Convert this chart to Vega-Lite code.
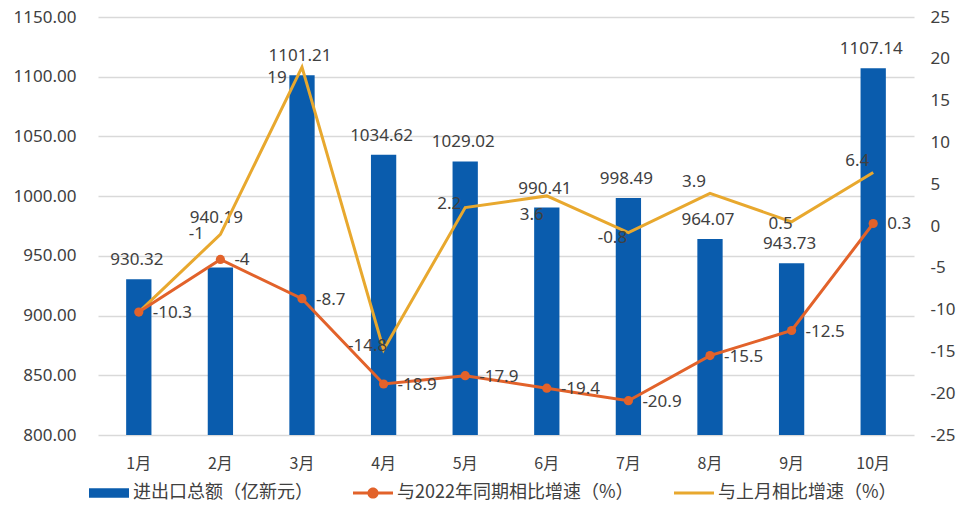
{
  "$schema": "https://vega.github.io/schema/vega-lite/v6.json",
  "width": 816,
  "height": 418,
  "autosize": {"type": "none"},
  "padding": {"left": 98, "top": 17, "right": 46, "bottom": 76},
  "background": "white",
  "config": {
    "view": {"stroke": null},
    "font": "Noto Sans",
    "text": {"font": "Noto Sans", "fontSize": 17, "fill": "#404040"}
  },
  "data": {
    "values": [
      {"month": "1月", "total": 930.32, "yoy": -10.3, "mom": -10.3},
      {"month": "2月", "total": 940.19, "yoy": -4, "mom": -1},
      {"month": "3月", "total": 1101.21, "yoy": -8.7, "mom": 19},
      {"month": "4月", "total": 1034.62, "yoy": -18.9, "mom": -14.8},
      {"month": "5月", "total": 1029.02, "yoy": -17.9, "mom": 2.2},
      {"month": "6月", "total": 990.41, "yoy": -19.4, "mom": 3.6},
      {"month": "7月", "total": 998.49, "yoy": -20.9, "mom": -0.8},
      {"month": "8月", "total": 964.07, "yoy": -15.5, "mom": 3.9},
      {"month": "9月", "total": 943.73, "yoy": -12.5, "mom": 0.5},
      {"month": "10月", "total": 1107.14, "yoy": 0.3, "mom": 6.4}
    ]
  },
  "encoding": {
    "x": {
      "field": "month",
      "type": "nominal",
      "sort": null,
      "scale": {"paddingInner": 0, "paddingOuter": 0},
      "axis": {
        "title": null,
        "labelAngle": 0,
        "domain": false,
        "ticks": false,
        "labelFont": "Noto Sans CJK SC",
        "labelFontSize": 16,
        "labelColor": "#404040",
        "labelPadding": 20
      }
    }
  },
  "layer": [
    {
      "mark": {"type": "bar", "width": {"band": 0.31}},
      "encoding": {
        "y": {
          "field": "total",
          "type": "quantitative",
          "scale": {"domain": [800, 1150], "nice": false, "zero": false},
          "axis": {
            "title": null,
            "values": [800, 850, 900, 950, 1000, 1050, 1100, 1150],
            "format": ".2f",
            "grid": true,
            "gridColor": "#d9d9d9",
            "gridWidth": 1.5,
            "domain": false,
            "ticks": false,
            "labelFont": "Noto Sans",
            "labelFontSize": 17,
            "labelColor": "#404040",
            "labelPadding": 22
          }
        },
        "y2": {"datum": 800},
        "color": {
          "datum": "进出口总额（亿新元）",
          "type": "nominal",
          "scale": {
            "domain": ["进出口总额（亿新元）", "与2022年同期相比增速（%）", "与上月相比增速（%）"],
            "range": ["#0A5CAD", "#E2622A", "#E8A82E"]
          },
          "legend": {
            "title": null,
            "orient": "none",
            "legendX": -9,
            "legendY": 456,
            "direction": "horizontal",
            "columns": 3,
            "padding": 0,
            "symbolSize": 1600,
            "symbolStrokeWidth": 0,
            "symbolOpacity": 1,
            "labelFont": "Noto Sans CJK SC",
            "labelFontSize": 18,
            "labelColor": "#404040",
            "labelOffset": 4,
            "labelLimit": 0,
            "columnPadding": 40
          }
        }
      }
    },
    {
      "transform": [{"filter": "datum.month === 'none'"}],
      "mark": {"type": "point", "filled": true, "opacity": 1},
      "encoding": {
        "y": {"field": "total", "type": "quantitative", "scale": {"domain": [800, 1150], "nice": false, "zero": false}, "axis": null},
        "color": {"datum": "与2022年同期相比增速（%）", "type": "nominal"},
        "shape": {
          "datum": "与2022年同期相比增速（%）",
          "type": "nominal",
          "scale": {
            "domain": ["进出口总额（亿新元）", "与2022年同期相比增速（%）", "与上月相比增速（%）"],
            "range": [
              "M-1,-0.24H1V0.24H-1Z",
              "M-1,-0.075H1V0.075H-1ZM0.28,0A0.28,0.28 0 1 1 -0.28,0A0.28,0.28 0 1 1 0.28,0Z",
              "M-1,-0.075H1V0.075H-1Z"
            ]
          },
          "legend": {
            "title": null,
            "orient": "none",
            "legendX": -9,
            "legendY": 456,
            "direction": "horizontal",
            "columns": 3,
            "padding": 0,
            "symbolSize": 1600,
            "symbolStrokeWidth": 0,
            "symbolOpacity": 1,
            "labelFont": "Noto Sans CJK SC",
            "labelFontSize": 18,
            "labelColor": "#404040",
            "labelOffset": 4,
            "labelLimit": 0,
            "columnPadding": 40
          }
        }
      }
    },
    {
      "transform": [{"filter": "datum.month !== '2月'"}],
      "mark": {"type": "text", "dy": -19, "dx": -2, "baseline": "middle"},
      "encoding": {
        "y": {"field": "total", "type": "quantitative", "scale": {"domain": [800, 1150], "nice": false, "zero": false}, "axis": null},
        "text": {"field": "total", "type": "quantitative", "format": ".2f"}
      }
    },
    {
      "transform": [{"filter": "datum.month === '2月'"}],
      "mark": {"type": "text", "dy": -50, "dx": -4, "baseline": "middle"},
      "encoding": {
        "y": {"field": "total", "type": "quantitative", "scale": {"domain": [800, 1150], "nice": false, "zero": false}, "axis": null},
        "text": {"field": "total", "type": "quantitative", "format": ".2f"}
      }
    },
    {
      "mark": {"type": "line", "strokeWidth": 3},
      "encoding": {
        "y": {
          "field": "mom",
          "type": "quantitative",
          "scale": {"domain": [-25, 25], "nice": false},
          "axis": {
            "title": null,
            "orient": "right",
            "values": [-25, -20, -15, -10, -5, 0, 5, 10, 15, 20, 25],
            "labelExpr": "'' + datum.value",
            "grid": false,
            "domain": false,
            "ticks": false,
            "labelFont": "Noto Sans",
            "labelFontSize": 17,
            "labelColor": "#404040",
            "labelPadding": 16
          }
        },
        "color": {"datum": "与上月相比增速（%）", "type": "nominal"}
      }
    },
    {
      "mark": {"type": "line", "strokeWidth": 3},
      "encoding": {
        "y": {"field": "yoy", "type": "quantitative", "scale": {"domain": [-25, 25], "nice": false}, "axis": null},
        "color": {"datum": "与2022年同期相比增速（%）", "type": "nominal"}
      }
    },
    {
      "mark": {"type": "point", "filled": true, "size": 85, "color": "#E2622A", "opacity": 1},
      "encoding": {"y": {"field": "yoy", "type": "quantitative", "scale": {"domain": [-25, 25], "nice": false}, "axis": null}}
    },
    {
      "mark": {"type": "text", "align": "left", "dx": 14, "dy": 1, "baseline": "middle"},
      "encoding": {
        "y": {"field": "yoy", "type": "quantitative", "scale": {"domain": [-25, 25], "nice": false}, "axis": null},
        "text": {"field": "yoy", "type": "nominal"}
      }
    },
    {
      "transform": [{"filter": "datum.month === '4月' || datum.month === '5月'"}],
      "mark": {"type": "text", "align": "center", "dx": -16, "dy": -4, "baseline": "middle"},
      "encoding": {
        "y": {"field": "mom", "type": "quantitative", "scale": {"domain": [-25, 25], "nice": false}, "axis": null},
        "text": {"field": "mom", "type": "nominal"}
      }
    },
    {
      "transform": [{"filter": "datum.month === '8月' || datum.month === '10月'"}],
      "mark": {"type": "text", "align": "center", "dx": -16, "dy": -11, "baseline": "middle"},
      "encoding": {
        "y": {"field": "mom", "type": "quantitative", "scale": {"domain": [-25, 25], "nice": false}, "axis": null},
        "text": {"field": "mom", "type": "nominal"}
      }
    },
    {
      "transform": [{"filter": "datum.month === '6月'"}],
      "mark": {"type": "text", "align": "center", "dx": -15, "dy": 19, "baseline": "middle"},
      "encoding": {
        "y": {"field": "mom", "type": "quantitative", "scale": {"domain": [-25, 25], "nice": false}, "axis": null},
        "text": {"field": "mom", "type": "nominal"}
      }
    },
    {
      "transform": [{"filter": "datum.month === '7月'"}],
      "mark": {"type": "text", "align": "center", "dx": -16, "dy": 5, "baseline": "middle"},
      "encoding": {
        "y": {"field": "mom", "type": "quantitative", "scale": {"domain": [-25, 25], "nice": false}, "axis": null},
        "text": {"field": "mom", "type": "nominal"}
      }
    },
    {
      "transform": [{"filter": "datum.month === '2月'"}],
      "mark": {"type": "text", "align": "center", "dx": -24, "dy": 0, "baseline": "middle"},
      "encoding": {
        "y": {"field": "mom", "type": "quantitative", "scale": {"domain": [-25, 25], "nice": false}, "axis": null},
        "text": {"field": "mom", "type": "nominal"}
      }
    },
    {
      "transform": [{"filter": "datum.month === '3月'"}],
      "mark": {"type": "text", "align": "center", "dx": -25, "dy": 11, "baseline": "middle"},
      "encoding": {
        "y": {"field": "mom", "type": "quantitative", "scale": {"domain": [-25, 25], "nice": false}, "axis": null},
        "text": {"field": "mom", "type": "nominal"}
      }
    },
    {
      "transform": [{"filter": "datum.month === '9月'"}],
      "mark": {"type": "text", "align": "center", "dx": -11, "dy": 2, "baseline": "middle"},
      "encoding": {
        "y": {"field": "mom", "type": "quantitative", "scale": {"domain": [-25, 25], "nice": false}, "axis": null},
        "text": {"field": "mom", "type": "nominal"}
      }
    }
  ],
  "resolve": {"scale": {"y": "independent"}}
}
